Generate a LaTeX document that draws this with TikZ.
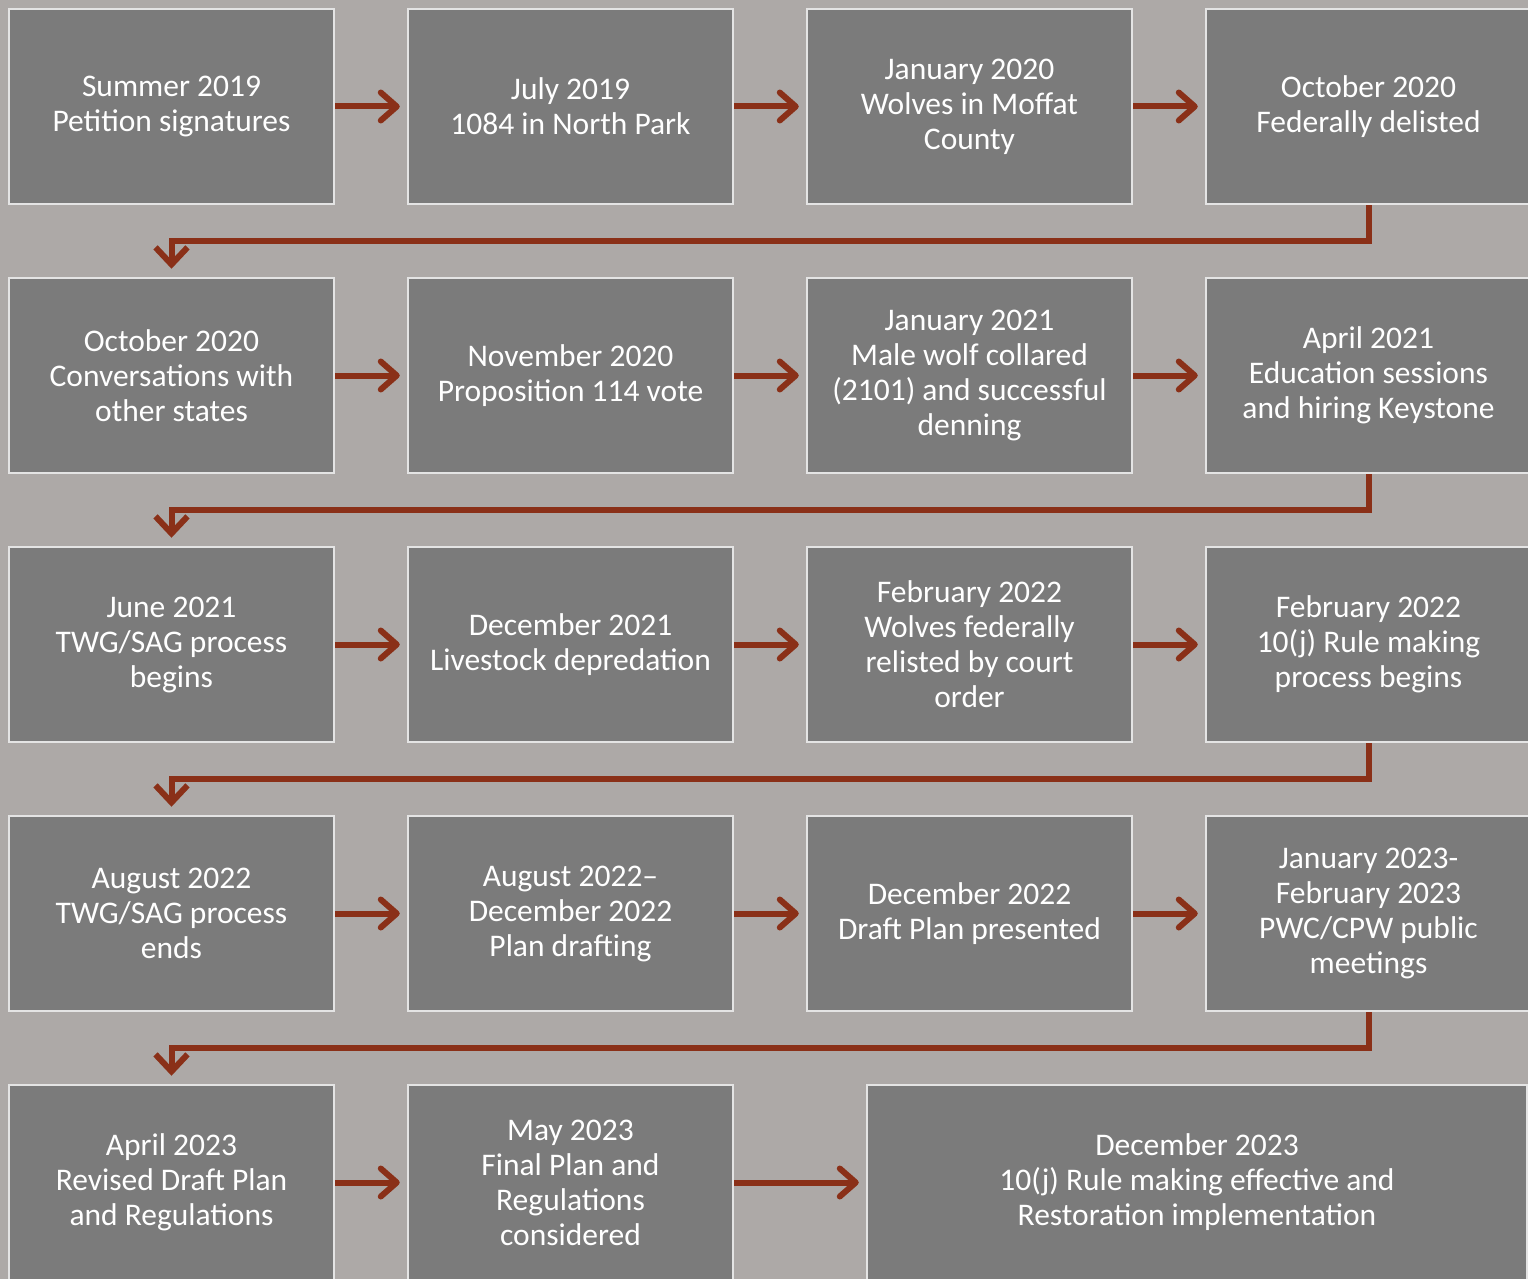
\documentclass[tikz,border=0pt]{standalone}
\usepackage{fontspec}
\setmainfont{Carlito}
\usetikzlibrary{arrows.meta}
\definecolor{bgc}{HTML}{ADA9A7}
\definecolor{boxc}{HTML}{7B7B7B}
\definecolor{edgec}{HTML}{E4E4E4}
\definecolor{arrc}{HTML}{8A3018}
\tikzset{
  box/.style={rectangle, draw=edgec, line width=2.5pt, fill=boxc, minimum width=325pt, minimum height=195pt,
    inner sep=0pt, align=center, text=white, font=\fontsize{31.5}{35}\selectfont},
  widebox/.style={box, minimum width=660pt},
  flow/.style={draw=arrc, line width=6pt, -{Straight Barb[length=16pt,width=28pt,round]}},
  wrap/.style={draw=arrc, line width=6pt, -{Straight Barb[length=17pt,width=32pt]}}
}
\begin{document}
\begin{tikzpicture}[x=1pt,y=1pt]
\fill[bgc] (0,0) rectangle (1528,-1279);
\useasboundingbox (0,0) rectangle (1528,-1279);
% row 1
\node[box] (a1) at (171.5,-106.5) {Summer 2019\\Petition signatures};
\node[box] (a2) at (570.5,-106.5) {July 2019\\1084 in North Park};
\node[box] (a3) at (969.5,-106.5) {January 2020\\Wolves in Moffat\\County};
\node[box] (a4) at (1368.5,-106.5) {October 2020\\Federally delisted};
% row 2
\node[box] (b1) at (171.5,-375.5) {October 2020\\Conversations with\\other states};
\node[box] (b2) at (570.5,-375.5) {November 2020\\Proposition 114 vote};
\node[box] (b3) at (969.5,-375.5) {January 2021\\Male wolf collared\\(2101) and successful\\denning};
\node[box] (b4) at (1368.5,-375.5) {April 2021\\Education sessions\\and hiring Keystone};
% row 3
\node[box] (c1) at (171.5,-644.5) {June 2021\\TWG/SAG process\\begins};
\node[box] (c2) at (570.5,-644.5) {December 2021\\Livestock depredation};
\node[box] (c3) at (969.5,-644.5) {February 2022\\Wolves federally\\relisted by court\\order};
\node[box] (c4) at (1368.5,-644.5) {February 2022\\10(j) Rule making\\process begins};
% row 4
\node[box] (d1) at (171.5,-913.5) {August 2022\\TWG/SAG process\\ends};
\node[box] (d2) at (570.5,-913.5) {August 2022--\\December 2022\\Plan drafting};
\node[box] (d3) at (969.5,-913.5) {December 2022\\Draft Plan presented};
\node[box] (d4) at (1368.5,-913.5) {January 2023-\\February 2023\\PWC/CPW public\\meetings};
% row 5
\node[box] (e1) at (171.5,-1182.5) {April 2023\\Revised Draft Plan\\and Regulations};
\node[box] (e2) at (570.5,-1182.5) {May 2023\\Final Plan and\\Regulations\\considered};
\node[widebox] (e3) at (1197,-1182.5) {December 2023\\10(j) Rule making effective and\\Restoration implementation};
% horizontal arrows
\foreach \r in {a,b,c,d}{
  \draw[flow, shorten >=7pt] (\r1.east) -- (\r2.west);
  \draw[flow, shorten >=7pt] (\r2.east) -- (\r3.west);
  \draw[flow, shorten >=7pt] (\r3.east) -- (\r4.west);
}
\draw[flow, shorten >=7pt] (e1.east) -- (e2.west);
\draw[flow, shorten >=7pt] (e2.east) -- (e3.west);
% wrap-around connectors
\draw[wrap, shorten >=8pt] (a4.south) -- ++(0,-36) -| (b1.north);
\draw[wrap, shorten >=8pt] (b4.south) -- ++(0,-36) -| (c1.north);
\draw[wrap, shorten >=8pt] (c4.south) -- ++(0,-36) -| (d1.north);
\draw[wrap, shorten >=8pt] (d4.south) -- ++(0,-36) -| (e1.north);
\end{tikzpicture}
\end{document}
